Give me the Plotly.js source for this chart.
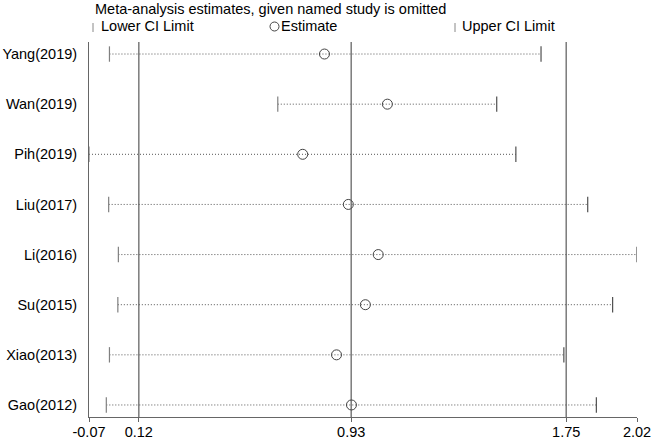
<!DOCTYPE html>
<html>
<head>
<meta charset="utf-8">
<script src="https://cdn.plot.ly/plotly-3.0.1.min.js"></script>
<style>html,body{margin:0;padding:0;background:#fff;}#chart{width:660px;height:440px;}</style>
</head>
<body>
<div id="chart"></div>
<script>
// ---- data ----
var studies  = ["Yang(2019)", "Wan(2019)", "Pih(2019)", "Liu(2017)", "Li(2016)", "Su(2015)", "Xiao(2013)", "Gao(2012)"];
var lowerCI  = [0.008, 0.650, -0.070, 0.005, 0.042, 0.040, 0.008, -0.004];
var estimate = [0.828, 1.068, 0.745, 0.919, 1.033, 0.984, 0.874, 0.931];
var upperCI  = [1.654, 1.485, 1.558, 1.832, 2.020, 1.927, 1.741, 1.865];
var refLines = [0.12, 0.93, 1.75];
var xTicks   = [-0.07, 0.12, 0.93, 1.75, 2.02];
var xTickText = ["-0.07", "0.12", "0.93", "1.75", "2.02"];

// ---- build ----
var n = studies.length;
var ypos = studies.map(function (s, i) { return n - i; });

var lx = [], ly = [];
for (var i = 0; i < n; i++) {
  lx.push(lowerCI[i], upperCI[i], null);
  ly.push(ypos[i], ypos[i], null);
}
var lineCol = "#555555";

var traces = [
  { type: "scatter", mode: "lines", x: lx, y: ly, hoverinfo: "skip",
    line: { color: lineCol, width: 1, dash: "1px,2px" }, showlegend: false },
  { type: "scatter", mode: "markers", x: lowerCI, y: ypos, name: "Lower CI Limit",
    marker: { symbol: "line-ns-open", size: 11, color: "#808080", line: { color: "#808080", width: 1.2 } }, showlegend: false },
  { type: "scatter", mode: "markers", x: upperCI, y: ypos, name: "Upper CI Limit",
    marker: { symbol: "line-ns-open", size: 11, color: "#505050", line: { color: "#505050", width: 1.2 } }, showlegend: false },
  { type: "scatter", mode: "markers", x: estimate, y: ypos, name: "Estimate",
    marker: { symbol: "circle-open", size: 10, color: "#444444", line: { color: "#444444", width: 1 } }, showlegend: false }
];

var L = 89, R = 637, T = 42, B = 417;
var W = R - L, H = B - T;
function px(x) { return (x - L) / W; }
function py(y) { return (B - y) / H; }

var shapes = refLines.map(function (v) {
  return { type: "line", xref: "x", yref: "paper", x0: v, x1: v, y0: 0, y1: 1,
           line: { color: "#7a7a7a", width: 1.5 }, layer: "below" };
});
// legend symbols
shapes.push({ type: "line", xref: "paper", yref: "paper", x0: px(93), x1: px(93), y0: py(32), y1: py(23), line: { color: "#888888", width: 1 } });
shapes.push({ type: "circle", xref: "paper", yref: "paper", x0: px(270), x1: px(279), y0: py(31), y1: py(22), line: { color: "#444444", width: 1 } });
shapes.push({ type: "line", xref: "paper", yref: "paper", x0: px(455), x1: px(455), y0: py(32), y1: py(23), line: { color: "#888888", width: 1 } });

var f = { family: "Liberation Sans, Arial, sans-serif", size: 14.5, color: "#000000" };
var annotations = [
  { xref: "paper", yref: "paper", x: px(93), y: py(9), xanchor: "left", yanchor: "middle",
    text: "Meta-analysis estimates, given named study is omitted", showarrow: false, font: f },
  { xref: "paper", yref: "paper", x: px(99), y: py(26), xanchor: "left", yanchor: "middle",
    text: "Lower CI Limit", showarrow: false, font: f },
  { xref: "paper", yref: "paper", x: px(279), y: py(26), xanchor: "left", yanchor: "middle",
    text: "Estimate", showarrow: false, font: f },
  { xref: "paper", yref: "paper", x: px(460), y: py(26), xanchor: "left", yanchor: "middle",
    text: "Upper CI Limit", showarrow: false, font: f }
];

var layout = {
  width: 660, height: 440,
  margin: { l: L, r: 660 - R, t: T, b: 440 - B, pad: 0 },
  paper_bgcolor: "#ffffff", plot_bgcolor: "#ffffff",
  font: f,
  showlegend: false,
  xaxis: {
    range: [-0.07, 2.02], tickmode: "array", tickvals: xTicks, ticktext: xTickText,
    showgrid: false, zeroline: false, showline: true, linecolor: "#666666", linewidth: 1,
    ticks: "outside", ticklen: 4, tickcolor: "#666666", tickfont: f, ticklabelstandoff: -2
  },
  yaxis: {
    range: [0.76, 8.24], tickmode: "array", tickvals: ypos, ticktext: studies,
    showgrid: false, zeroline: false, showline: true, linecolor: "#666666", linewidth: 1,
    ticks: "", ticklabelstandoff: 8, tickfont: f
  },
  shapes: shapes,
  annotations: annotations
};

Plotly.newPlot("chart", traces, layout, { staticPlot: true, displayModeBar: false });
</script>
</body>
</html>
